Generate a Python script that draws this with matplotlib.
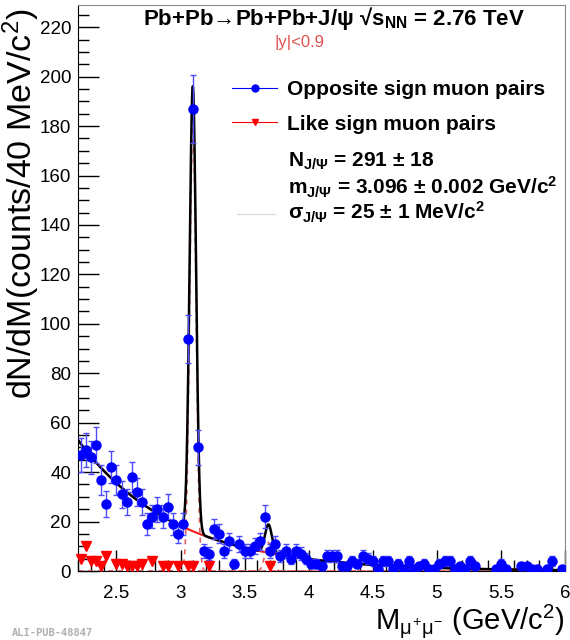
import numpy as np
import matplotlib
matplotlib.use("Agg")
import matplotlib.pyplot as plt
from matplotlib.ticker import MultipleLocator, FuncFormatter
from matplotlib.lines import Line2D

plt.rcParams['font.family'] = ['Liberation Sans', 'DejaVu Sans']
plt.rcParams['mathtext.fontset'] = 'custom'
plt.rcParams['mathtext.rm'] = 'Liberation Sans'
plt.rcParams['mathtext.it'] = 'Liberation Sans'
plt.rcParams['mathtext.bf'] = 'Liberation Sans:bold'

# ---------------- data ----------------
bin_lo = 2.2
bin_width = 0.04
n_bins = 95
bin_centers = bin_lo + bin_width * (np.arange(n_bins) + 0.5)

opposite_sign = [47, 49, 46, 51, 37, 27, 42, 37, 31, 28,
                 38, 32, 28, 19, 22, 25, 22, 26, 19, 15,
                 19, 94, 187, 50, 8, 7, 17, 15, 8, 12,
                 3, 11, 8, 8, 10, 12, 22, 8, 11, 6,
                 8, 5, 8, 7, 5, 3, 3, 2, 6, 6,
                 6, 2, 2, 4, 3, 6, 5, 4, 1, 4,
                 4, 1, 3, 1, 4, 1, 2, 3, 1, 1,
                 3, 4, 4, 1, 2, 1, 4, 2, 0, 0,
                 0, 1, 3, 1, 0, 0, 2, 2, 1, 1,
                 0, 1, 4, 0, 1]

like_sign = [5, 10, 4, 4, 2, 6, 0, 3, 3, 2,
             2, 2, 3, 0, 4, 0, 2, 2, 0, 2,
             0, 2, 2, 0, 0, 2, 0, 0, 0, 0,
             0, 0, 0, 0, 0, 0, 0, 2, 0, 0] + [0] * 55

bkg_norm = 53.0      # counts/bin at 2.2 GeV
bkg_slope = 1.33     # 1/GeV
jpsi_amp = 180.0     # drawn peak height of the J/psi Gaussian
jpsi_mass = 3.096
jpsi_sigma = 0.025
psi2s_amp = 11.5
psi2s_mass = 3.686
psi2s_sigma = 0.027

x_ticks = [2.5, 3, 3.5, 4, 4.5, 5, 5.5, 6]
y_ticks = [0, 20, 40, 60, 80, 100, 120, 140, 160, 180, 200, 220]

# ---------------- figure ----------------
fig = plt.figure(figsize=(5.7, 6.4), dpi=100)
ax = fig.add_axes([78 / 570, 1 - 571 / 640, 487 / 570, 566 / 640])

os_arr = np.array(opposite_sign, dtype=float)
ls_arr = np.array(like_sign, dtype=float)

m = np.linspace(bin_lo, 6.0, 3000)
bkg = bkg_norm * np.exp(-bkg_slope * (m - bin_lo))
g1 = jpsi_amp * np.exp(-0.5 * ((m - jpsi_mass) / jpsi_sigma) ** 2)
g2 = psi2s_amp * np.exp(-0.5 * ((m - psi2s_mass) / psi2s_sigma) ** 2)
total = bkg + g1 + g2

ax.plot(m, bkg, color='#ff1a1a', lw=1.5, zorder=2)
ax.plot(m, g1, color='#e06060', lw=1.2, ls=(0, (3, 3)), zorder=2)
ax.plot(m, g2, color='#e06060', lw=1.2, ls=(0, (3, 3)), zorder=2)
ax.plot(m, total, color='black', lw=1.8, zorder=3)

mask = os_arr > 0
ax.errorbar(bin_centers[mask], os_arr[mask], yerr=np.sqrt(os_arr[mask]),
            fmt='o', color='#0000ff', ecolor='#4d4dff', elinewidth=1.0,
            capsize=2, markersize=6.5, zorder=5)
mask2 = ls_arr > 0
ax.plot(bin_centers[mask2], ls_arr[mask2], 'v', color='#ff0000',
        markersize=7, zorder=6, clip_on=False)

ax.set_xlim(2.2, 6.0)
ax.set_ylim(0, 229)
ax.set_xticks(x_ticks)
ax.set_yticks(y_ticks)
ax.xaxis.set_major_formatter(FuncFormatter(lambda v, p: '%g' % v))
ax.xaxis.set_minor_locator(MultipleLocator(0.1))
ax.yaxis.set_minor_locator(MultipleLocator(5))
ax.tick_params(which='major', direction='in', length=15, width=1,
               labelsize=13.5, top=False, right=False)
ax.tick_params(which='minor', direction='in', length=8, width=1,
               top=False, right=False)
ax.tick_params(axis='x', which='major', pad=10)
ax.tick_params(axis='y', which='major', pad=5)
for s in ['top', 'right']:
    ax.spines[s].set_color('#888888')

ax.set_ylabel(r'dN/dM(counts/40 MeV/c$^{2}$)', fontsize=24.5, loc='top')
ax.yaxis.set_label_coords(-0.074, 0.994)
ax.set_xlabel(r'M$_{\mu^{+}\mu^{-}}$ (GeV/c$^{2}$)', fontsize=21, loc='right')
ax.xaxis.set_label_coords(1.0, -0.055)
ax.xaxis.label.set_va('top')

ax.text(0.526, 0.977, r'Pb+Pb→Pb+Pb+J/ψ √s$_{\mathbf{NN}}$ = 2.76 TeV',
        transform=ax.transAxes, ha='center', va='center', fontsize=16,
        fontweight='bold')
ax.text(0.455, 0.933, '|y|<0.9', transform=ax.transAxes, ha='center',
        va='center', fontsize=12, color='#e05050')

handles = [Line2D([], [], color='#0000ff', lw=0.8, marker='o', markersize=5),
           Line2D([], [], color='#ff0000', lw=0.8, marker='v', markersize=5)]
leg = ax.legend(handles, ['Opposite sign muon pairs', 'Like sign muon pairs'],
                loc='upper left', bbox_to_anchor=(0.30, 0.882), frameon=False,
                prop={'weight': 'bold', 'size': 15}, handlelength=2.15,
                labelspacing=0.75, handletextpad=0.45, borderaxespad=0)

ax.text(0.431, 0.724, r'N$_{\mathbf{J/\Psi}}$ = 291 ± 18', transform=ax.transAxes,
        ha='left', va='center', fontsize=15, fontweight='bold')
ax.text(0.431, 0.677, r'm$_{\mathbf{J/\Psi}}$ = 3.096 ± 0.002 GeV/c$^{\mathbf{2}}$',
        transform=ax.transAxes, ha='left', va='center', fontsize=15,
        fontweight='bold')
ax.text(0.431, 0.634, r'σ$_{\mathbf{J/\Psi}}$ = 25 ± 1 MeV/c$^{\mathbf{2}}$',
        transform=ax.transAxes, ha='left', va='center', fontsize=15,
        fontweight='bold')
ax.add_line(Line2D([0.327, 0.405], [0.630, 0.630], transform=ax.transAxes,
                   color='#dddddd', lw=1))

fig.text(12 / 570, 1 - 633 / 640, 'ALI-PUB-48847', fontsize=7.5,
         family='DejaVu Sans Mono', fontweight='bold', color='#b0b0b0',
         ha='left', va='center')

fig.savefig('out.png', dpi=100)
